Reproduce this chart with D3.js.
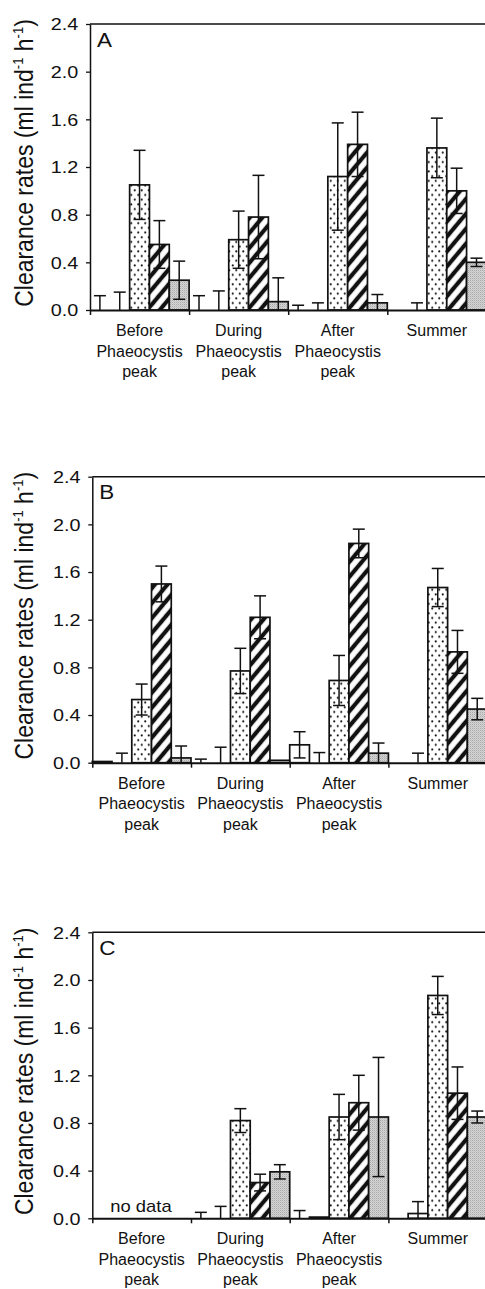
<!DOCTYPE html>
<html><head><meta charset="utf-8">
<script src="https://cdn.jsdelivr.net/npm/d3@7"></script>
<style>html,body{margin:0;padding:0;background:#fff;} svg{display:block;}</style>
</head><body>
<svg id="chart" width="485" height="1289"></svg>
<script>
// ---------- data ----------
const categories = ["Before Phaeocystis peak", "During Phaeocystis peak", "After Phaeocystis peak", "Summer"];
const categoryLines = [["Before", "Phaeocystis", "peak"], ["During", "Phaeocystis", "peak"], ["After", "Phaeocystis", "peak"], ["Summer"]];
const seriesNames = ["Series 1", "Series 2", "Series 3", "Series 4", "Series 5"];
const yTicks = [0, 0.4, 0.8, 1.2, 1.6, 2.0, 2.4];
const panelLetters = ["A", "B", "C"];

// values[series][category]; null = no bar
const valuesA = [
  [0, 0, 0, null],
  [0, 0, 0, 0],
  [1.05, 0.59, 1.12, 1.36],
  [0.55, 0.78, 1.39, 1.00],
  [0.25, 0.07, 0.06, 0.40]
];
const errorsA = [
  [0.12, 0.12, 0.04, null],
  [0.15, 0.16, 0.06, 0.06],
  [0.29, 0.24, 0.45, 0.25],
  [0.20, 0.35, 0.27, 0.19],
  [0.16, 0.20, 0.07, 0.035]
];
const valuesB = [
  [0.01, 0, 0.15, null],
  [0, 0, 0, 0],
  [0.53, 0.77, 0.69, 1.47],
  [1.50, 1.22, 1.84, 0.93],
  [0.04, 0.02, 0.08, 0.45]
];
const errorsB = [
  [null, 0.03, 0.11, null],
  [0.08, 0.13, 0.085, 0.08],
  [0.13, 0.19, 0.21, 0.16],
  [0.15, 0.18, 0.12, 0.18],
  [0.10, null, 0.085, 0.09]
];
const valuesC = [
  [null, 0, 0, null],
  [null, 0, 0.01, 0.04],
  [null, 0.82, 0.85, 1.87],
  [null, 0.30, 0.97, 1.05],
  [null, 0.39, 0.85, 0.85]
];
const errorsC = [
  [null, 0.05, 0.065, null],
  [null, 0.10, null, 0.10],
  [null, 0.10, 0.19, 0.16],
  [null, 0.07, 0.23, 0.22],
  [null, 0.06, 0.50, 0.05]
];
const noDataText = "no data";

// ---------- drawing ----------
const FONT = "'Liberation Sans', Arial, Helvetica, sans-serif";
const svg = d3.select("#chart");
const defs = svg.append("defs");

// dotted pattern
const dots = defs.append("pattern").attr("id", "dots").attr("patternUnits", "userSpaceOnUse")
  .attr("width", 7).attr("height", 9.4);
dots.append("rect").attr("width", 7).attr("height", 9.4).attr("fill", "#fff");
dots.append("circle").attr("cx", 1.75).attr("cy", 2.3).attr("r", 1.05).attr("fill", "#111");
dots.append("circle").attr("cx", 5.25).attr("cy", 7.0).attr("r", 1.05).attr("fill", "#111");

// hatch pattern
const hatch = defs.append("pattern").attr("id", "hatch").attr("patternUnits", "userSpaceOnUse")
  .attr("width", 9.6).attr("height", 9.6).attr("patternTransform", "rotate(40)");
hatch.append("rect").attr("width", 9.6).attr("height", 9.6).attr("fill", "#fff");
hatch.append("line").attr("x1", 4.8).attr("x2", 4.8).attr("y1", -1).attr("y2", 11)
  .attr("stroke", "#111").attr("stroke-width", 4.2);

// grey stipple pattern
const grey = defs.append("pattern").attr("id", "grey").attr("patternUnits", "userSpaceOnUse")
  .attr("width", 2).attr("height", 2);
grey.append("rect").attr("width", 2).attr("height", 2).attr("fill", "#d4d4d4");
grey.append("rect").attr("width", 1).attr("height", 1).attr("fill", "#a9a9a9");
grey.append("rect").attr("x", 1).attr("y", 1).attr("width", 1).attr("height", 1).attr("fill", "#c4c4c4");

const fills = ["#fff", "#fff", "url(#dots)", "url(#hatch)", "url(#grey)"];

const panels = [
  { values: valuesA, errors: errorsA, top: 24, bottom: 310, left: 90, gw: 99.1, noData: false },
  { values: valuesB, errors: errorsB, top: 476.7, bottom: 762.7, left: 92.3, gw: 98.7, noData: false },
  { values: valuesC, errors: errorsC, top: 932.3, bottom: 1218.3, left: 92.3, gw: 98.7, noData: true }
];

panels.forEach((p, pi) => {
  const g = svg.append("g");
  const right = p.left + 4 * p.gw;
  const y = d3.scaleLinear().domain([0, 2.4]).range([p.bottom, p.top]);
  const x0 = d3.scaleBand().domain(categories).range([p.left, right]).padding(0);
  const x1 = d3.scaleBand().domain(seriesNames).range([0, x0.bandwidth()]).padding(0);
  const xIdx = d3.scaleLinear().domain([0, categories.length]).range([p.left, right]);

  // bars
  seriesNames.forEach((s, si) => {
    categories.forEach((c, ci) => {
      const v = p.values[si][ci];
      if (v == null || v <= 0) return;
      g.append("rect")
        .attr("x", x0(c) + x1(s))
        .attr("y", y(v))
        .attr("width", x1.bandwidth())
        .attr("height", y(0) - y(v))
        .attr("fill", fills[si])
        .attr("stroke", "#111")
        .attr("stroke-width", 1.7);
    });
  });

  // error bars
  seriesNames.forEach((s, si) => {
    categories.forEach((c, ci) => {
      const v = p.values[si][ci];
      const e = p.errors[si][ci];
      if (v == null || e == null) return;
      const cx = x0(c) + x1(s) + x1.bandwidth() / 2;
      const lo = Math.max(0, v - e);
      const hw = 6;
      g.append("line").attr("x1", cx).attr("x2", cx).attr("y1", y(v + e)).attr("y2", y(lo))
        .attr("stroke", "#111").attr("stroke-width", 1.5);
      g.append("line").attr("x1", cx - hw).attr("x2", cx + hw).attr("y1", y(v + e)).attr("y2", y(v + e))
        .attr("stroke", "#111").attr("stroke-width", 1.5);
      if (v - e > 0) {
        g.append("line").attr("x1", cx - hw).attr("x2", cx + hw).attr("y1", y(lo)).attr("y2", y(lo))
          .attr("stroke", "#111").attr("stroke-width", 1.5);
      }
    });
  });

  // top frame line
  g.append("line").attr("x1", p.left).attr("x2", right).attr("y1", p.top).attr("y2", p.top)
    .attr("stroke", "#111").attr("stroke-width", 1.5);

  // left axis
  const ya = g.append("g").attr("transform", `translate(${p.left},0)`)
    .call(d3.axisLeft(y).tickValues(yTicks).tickSize(4).tickSizeOuter(0).tickFormat(d3.format(".1f")));
  ya.select(".domain").attr("stroke", "#111").attr("stroke-width", 1.5);
  ya.selectAll(".tick line").attr("stroke", "#111").attr("stroke-width", 1.3);
  ya.selectAll(".tick text")
    .attr("x", 0).attr("dy", "0.35em")
    .attr("transform", "translate(-11.7,0) scale(1.2,1)")
    .attr("text-anchor", "end")
    .attr("fill", "#111")
    .style("font-family", FONT).style("font-size", "16.5px");

  // bottom axis
  const xa = g.append("g").attr("transform", `translate(0,${p.bottom})`)
    .call(d3.axisBottom(xIdx).tickValues(d3.range(categories.length + 1)).tickSize(5).tickSizeOuter(0).tickFormat(""));
  xa.select(".domain").attr("stroke", "#111").attr("stroke-width", 2);
  xa.selectAll(".tick line").attr("stroke", "#111").attr("stroke-width", 1.5);

  // category labels
  categories.forEach((c, ci) => {
    const t = g.append("text")
      .attr("x", x0(c) + x0.bandwidth() / 2)
      .attr("y", p.bottom + 26)
      .attr("text-anchor", "middle")
      .attr("fill", "#111")
      .style("font-family", FONT).style("font-size", "16px");
    categoryLines[ci].forEach((line, li) => {
      t.append("tspan").attr("x", x0(c) + x0.bandwidth() / 2).attr("dy", li === 0 ? 0 : 20.5).text(line);
    });
  });

  // panel letter
  g.append("text")
    .attr("transform", `translate(${p.left + 7},${p.top + 22.5}) scale(1.15,1)`)
    .attr("fill", "#111")
    .style("font-family", FONT).style("font-size", "19.5px")
    .text(panelLetters[pi]);

  // no data
  if (p.noData) {
    g.append("text")
      .attr("transform", `translate(${p.left + 18},${p.bottom - 6.6}) scale(1.15,1)`)
      .attr("fill", "#111")
      .style("font-family", FONT).style("font-size", "16px")
      .text(noDataText);
  }

  // y label
  const cy = (p.top + p.bottom) / 2 - 4;
  const yl = g.append("text")
    .attr("transform", `translate(33,${cy}) scale(1.12,1) rotate(-90)`)
    .attr("text-anchor", "middle")
    .attr("fill", "#111")
    .style("font-family", FONT).style("font-size", "23px");
  yl.append("tspan").text("Clearance rates (ml ind");
  yl.append("tspan").attr("dy", -9).style("font-size", "13px").text("-1");
  yl.append("tspan").attr("dy", 9).text(" h");
  yl.append("tspan").attr("dy", -9).style("font-size", "13px").text("-1");
  yl.append("tspan").attr("dy", 9).text(")");
});
</script>
</body></html>
